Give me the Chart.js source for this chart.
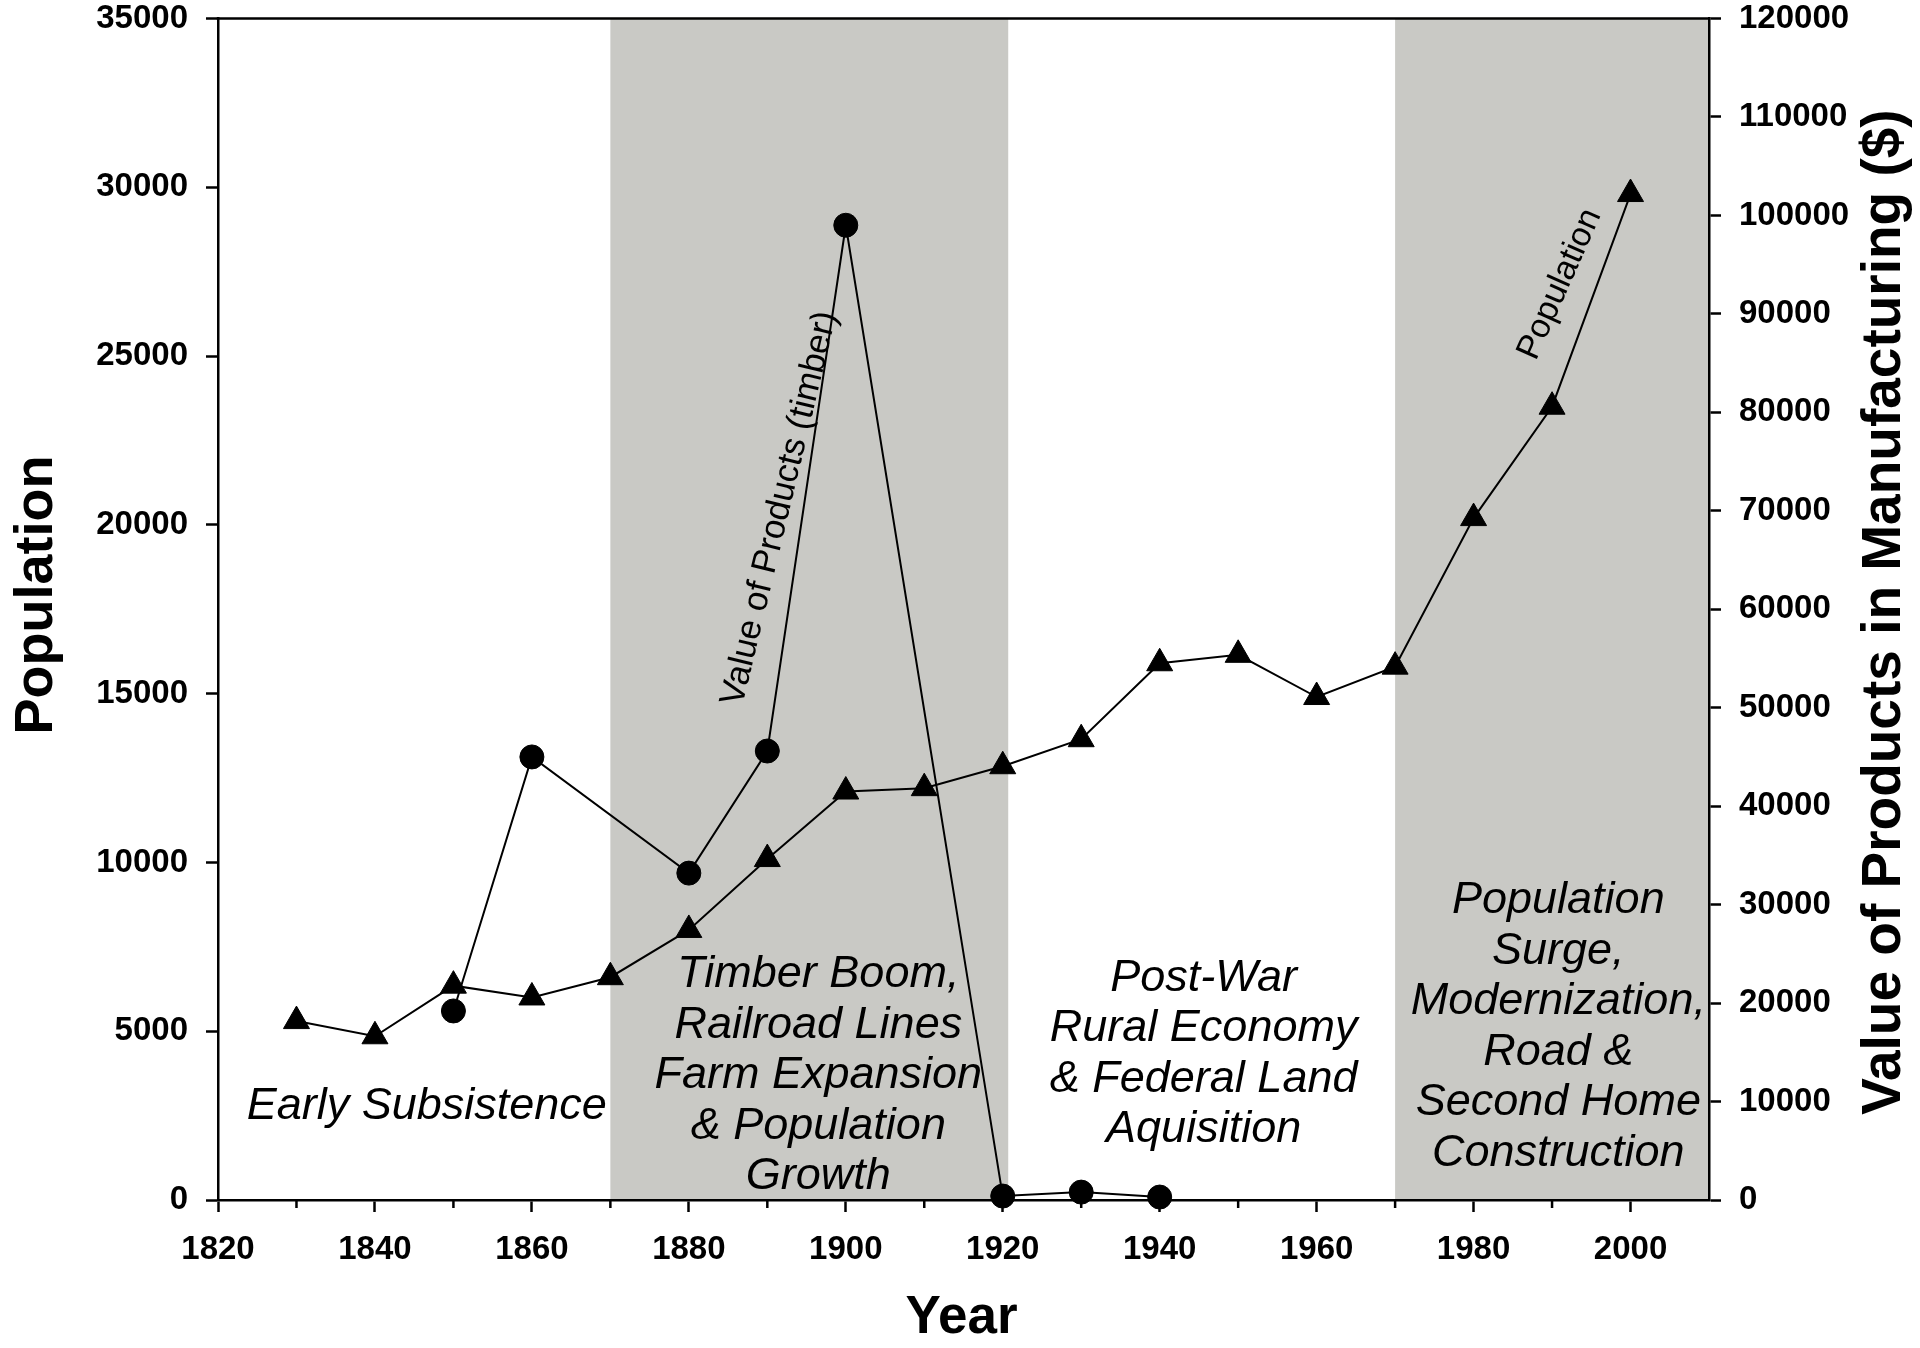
<!DOCTYPE html>
<html>
<head>
<meta charset="utf-8">
<script src="https://cdn.jsdelivr.net/npm/chart.js@4.4.0/dist/chart.umd.min.js"></script>
<style>
  html, body { margin: 0; padding: 0; background: #ffffff; }
  #wrap { width: 1920px; height: 1348px; }
  canvas { display: block; }
</style>
</head>
<body>
<div id="wrap"><canvas id="c" width="1920" height="1348"></canvas></div>
<script>
// ---------------- data ----------------
const popYears   = [1830, 1840, 1850, 1860, 1870, 1880, 1890, 1900, 1910, 1920, 1930, 1940, 1950, 1960, 1970, 1980, 1990, 2000];
const population = [5300, 4850, 6350, 6000, 6600, 8000, 10100, 12100, 12200, 12850, 13650, 15900, 16150, 14900, 15800, 20200, 23500, 29800];

const valueYears       = [1850, 1860, 1880, 1890, 1900, 1920, 1930, 1940];
const valueOfProducts  = [19200, 45000, 33200, 45600, 99000, 400, 800, 300];

const xTicks      = [1820, 1840, 1860, 1880, 1900, 1920, 1940, 1960, 1980, 2000];
const xMinorTicks = [1830, 1850, 1870, 1890, 1910, 1930, 1950, 1970, 1990];
const popTicks    = [0, 5000, 10000, 15000, 20000, 25000, 30000, 35000];
const valueTicks  = [0, 10000, 20000, 30000, 40000, 50000, 60000, 70000, 80000, 90000, 100000, 110000, 120000];

// shaded periods (years)
const shadeStart = [1870, 1970];
const shadeEnd   = [1920.7, 2010];

// period labels
const periodText = [
  ['Early Subsistence'],
  ['Timber Boom,', 'Railroad Lines', 'Farm Expansion', '& Population', 'Growth'],
  ['Post-War', 'Rural Economy', '& Federal Land', 'Aquisition'],
  ['Population', 'Surge,', 'Modernization,', 'Road &', 'Second Home', 'Construction']
];
const periodYear = [1846.6, 1896.5, 1945.6, 1990.8];
const periodPop  = [2410, 6300, 6200, 8490];

// series annotations along the lines
const seriesNote      = ['Value of Products (timber)', 'Population'];
const seriesNoteYear  = [1891.6, 1991.0];
const seriesNotePop   = [20490, 27130];
const seriesNoteAngle = [-76.5, -66];

// ---------------- chart ----------------
const FAMILY = "'Liberation Sans', Arial, Helvetica, sans-serif";

const overlay = {
  id: 'overlay',
  beforeDraw(chart) {
    const {ctx, chartArea: a, scales: {x}} = chart;
    ctx.save();
    ctx.fillStyle = '#ffffff';
    ctx.fillRect(0, 0, chart.width, chart.height);
    ctx.fillStyle = '#c9c9c5';
    for (let i = 0; i < shadeStart.length; i++) {
      const x0 = x.getPixelForValue(shadeStart[i]);
      const x1 = x.getPixelForValue(shadeEnd[i]);
      ctx.fillRect(x0, a.top, x1 - x0, a.bottom - a.top);
    }
    ctx.restore();
  },
  afterDatasetsDraw(chart) {
    const {ctx, scales: {x, y}} = chart;
    ctx.save();
    ctx.fillStyle = '#000';
    // period labels
    ctx.font = `italic 45px ${FAMILY}`;
    ctx.textAlign = 'center';
    ctx.textBaseline = 'alphabetic';
    for (let i = 0; i < periodText.length; i++) {
      const px = x.getPixelForValue(periodYear[i]);
      const py = y.getPixelForValue(periodPop[i]);
      periodText[i].forEach((t, j) => ctx.fillText(t, px, py + j * 50.5));
    }
    // rotated series notes
    ctx.textBaseline = 'middle';
    const sizes = [35, 34];
    for (let i = 0; i < seriesNote.length; i++) {
      ctx.save();
      ctx.translate(x.getPixelForValue(seriesNoteYear[i]), y.getPixelForValue(seriesNotePop[i]));
      ctx.rotate(seriesNoteAngle[i] * Math.PI / 180);
      ctx.font = `${sizes[i]}px ${FAMILY}`;
      ctx.fillText(seriesNote[i], 0, 0);
      ctx.restore();
    }
    ctx.restore();
  },
  afterDraw(chart) {
    const {ctx, chartArea: a, scales: {x}} = chart;
    ctx.save();
    ctx.strokeStyle = '#000';
    ctx.lineWidth = 2.5;
    // top frame line
    ctx.beginPath();
    ctx.moveTo(a.left - 1.25, a.top);
    ctx.lineTo(a.right + 1.25, a.top);
    ctx.stroke();
    // minor x ticks
    xMinorTicks.forEach(v => {
      const px = x.getPixelForValue(v);
      ctx.beginPath();
      ctx.moveTo(px, a.bottom);
      ctx.lineTo(px, a.bottom + 8);
      ctx.stroke();
    });
    // axis titles
    ctx.fillStyle = '#000';
    ctx.textAlign = 'center';
    ctx.textBaseline = 'middle';
    ctx.font = `bold 53px ${FAMILY}`;
    ctx.fillText('Year', (a.left + a.right) / 2 - 2, 1318.5);
    ctx.save();
    ctx.translate(37.5, 595);
    ctx.rotate(-Math.PI / 2);
    ctx.font = `bold 54px ${FAMILY}`;
    ctx.fillText('Population', 0, 0);
    ctx.restore();
    ctx.save();
    ctx.translate(1884.5, 612);
    ctx.rotate(-Math.PI / 2);
    ctx.font = `bold 55px ${FAMILY}`;
    ctx.fillText('Value of Products in Manufacturing ($)', 0, 0);
    ctx.restore();
    ctx.restore();
  }
};

const tickFont = {family: FAMILY, size: 33, weight: 'bold'};
const gridCfg = {drawOnChartArea: false, drawTicks: true, tickLength: 12, tickWidth: 2.5, tickColor: '#000'};
const borderCfg = {display: true, color: '#000', width: 2.5};

function fitVertical(w) {
  return s => { s.width = w; s.paddingTop = 18.5; s.paddingBottom = 0; };
}

new Chart(document.getElementById('c'), {
  type: 'line',
  data: {
    datasets: [
      {
        label: 'Population',
        data: popYears.map((yr, i) => ({x: yr, y: population[i]})),
        yAxisID: 'y',
        borderColor: '#000',
        borderWidth: 2,
        pointStyle: 'triangle',
        pointRadius: 15,
        pointBackgroundColor: '#000',
        pointBorderColor: '#000',
        pointBorderWidth: 1,
        tension: 0,
        fill: false,
        clip: false
      },
      {
        label: 'Value of Products (timber)',
        data: valueYears.map((yr, i) => ({x: yr, y: valueOfProducts[i]})),
        yAxisID: 'y1',
        borderColor: '#000',
        borderWidth: 2,
        pointStyle: 'circle',
        pointRadius: 12,
        pointBackgroundColor: '#000',
        pointBorderColor: '#000',
        pointBorderWidth: 1,
        tension: 0,
        fill: false,
        clip: false
      }
    ]
  },
  options: {
    responsive: false,
    animation: false,
    devicePixelRatio: 1,
    layout: {padding: {top: 0, left: 0, right: 0, bottom: 0}},
    plugins: {legend: {display: false}, tooltip: {enabled: false}, title: {display: false}},
    scales: {
      x: {
        type: 'linear', position: 'bottom', min: 1820, max: 2010,
        afterBuildTicks: s => { s.ticks = xTicks.map(v => ({value: v})); },
        afterFit: s => { s.height = 148; s.paddingLeft = 0; s.paddingRight = 0; },
        ticks: {font: tickFont, color: '#000', padding: 18, maxRotation: 0, autoSkip: false, callback: v => String(v)},
        grid: gridCfg, border: borderCfg
      },
      y: {
        type: 'linear', position: 'left', min: 0, max: 35000,
        afterBuildTicks: s => { s.ticks = popTicks.map(v => ({value: v})); },
        afterFit: fitVertical(218),
        ticks: {font: tickFont, color: '#000', padding: 18, autoSkip: false, callback: v => String(v)},
        grid: gridCfg, border: borderCfg
      },
      y1: {
        type: 'linear', position: 'right', min: 0, max: 120000,
        afterBuildTicks: s => { s.ticks = valueTicks.map(v => ({value: v})); },
        afterFit: fitVertical(211),
        ticks: {font: tickFont, color: '#000', padding: 18, autoSkip: false, callback: v => String(v)},
        grid: gridCfg, border: borderCfg
      }
    }
  },
  plugins: [overlay]
});
</script>
</body>
</html>
